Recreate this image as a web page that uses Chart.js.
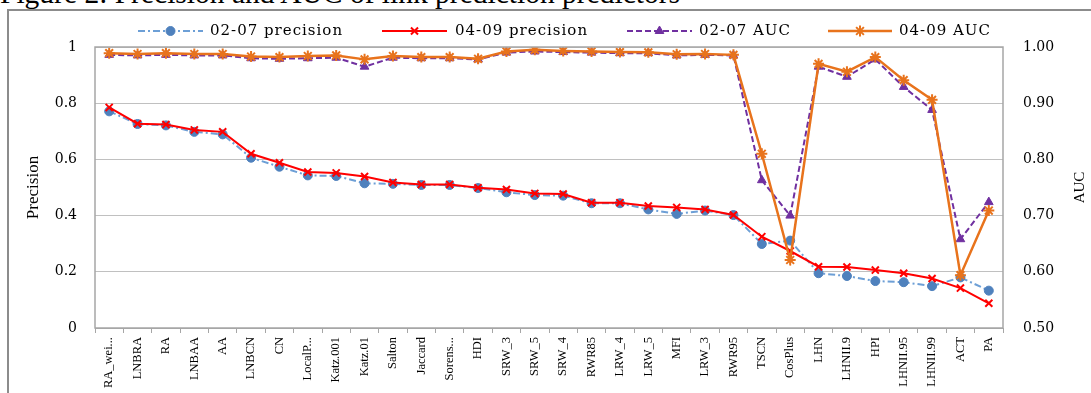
<!DOCTYPE html>
<html><head><meta charset="utf-8">
<script src="https://cdn.jsdelivr.net/npm/chart.js@4.4.0/dist/chart.umd.min.js"></script>
<style>
html,body{margin:0;padding:0;background:#fff;width:1091px;height:393px;overflow:hidden;}
#cap{position:absolute;left:0;top:-22px;font-family:"Liberation Serif";font-size:29.5px;line-height:30px;white-space:nowrap;color:#000}
#frame{position:absolute;left:7px;top:9px;width:1200px;height:500px;border-left:2px solid #8c8c8c;border-top:2px solid #8c8c8c;}
#wrap{position:absolute;left:0;top:0;width:1091px;height:393px}
</style></head><body>
<div id="cap">Figure 2: Precision and AUC of link prediction predictors</div>
<div id="frame"></div>
<div id="wrap"><canvas id="c" width="1091" height="393"></canvas></div>
<script>
const categories = ["RA_wei...","LNBRA","RA","LNBAA","AA","LNBCN","CN","LocalP...","Katz.001","Katz.01","Salton","Jaccard","Sorens...","HDI","SRW_3","SRW_5","SRW_4","RWR85","LRW_4","LRW_5","MFI","LRW_3","RWR95","TSCN","CosPlus","LHN","LHNII.9","HPI","LHNII.95","LHNII.99","ACT","PA"];
const prec0207 = [0.771,0.726,0.721,0.698,0.689,0.606,0.574,0.543,0.541,0.515,0.513,0.509,0.509,0.498,0.483,0.473,0.471,0.444,0.444,0.422,0.406,0.418,0.402,0.299,0.311,0.195,0.185,0.167,0.163,0.149,0.180,0.133];
const prec0409 = [0.785,0.727,0.724,0.705,0.698,0.620,0.588,0.555,0.552,0.539,0.518,0.511,0.511,0.499,0.493,0.479,0.477,0.446,0.446,0.434,0.429,0.422,0.402,0.325,0.274,0.218,0.217,0.206,0.195,0.176,0.142,0.088];
const auc0207 = [0.986,0.985,0.986,0.985,0.985,0.980,0.979,0.980,0.981,0.965,0.981,0.980,0.980,0.978,0.990,0.992,0.991,0.990,0.989,0.989,0.985,0.986,0.985,0.763,0.700,0.965,0.947,0.978,0.929,0.888,0.658,0.724];
const auc0409 = [0.989,0.9875,0.989,0.9875,0.9875,0.983,0.982,0.984,0.985,0.978,0.984,0.982,0.982,0.979,0.992,0.995,0.993,0.992,0.991,0.9905,0.987,0.9875,0.986,0.810,0.621,0.970,0.956,0.982,0.941,0.906,0.594,0.709];
const leftTicks = ["0","0.2","0.4","0.6","0.8","1"];
const rightTicks = ["0.50","0.60","0.70","0.80","0.90","1.00"];
const seriesNames = ["02-07 precision","04-09 precision","02-07 AUC","04-09 AUC"];
const leftTitle = "Precision";
const rightTitle = "AUC";

const legendPos = [
  {x0:138,x1:203,tx:210},
  {x0:382,x1:447,tx:455},
  {x0:627,x1:692,tx:699},
  {x0:828,x1:892,tx:899}
];

const extrasPlugin = {
  id:'extras',
  afterDraw(chart){
    const ctx = chart.ctx;
    const a = chart.chartArea;
    ctx.save();
    ctx.strokeStyle = '#a6a6a6';
    ctx.lineWidth = 1.5;
    ctx.setLineDash([]);
    ctx.strokeRect(a.left, a.top, a.right - a.left, a.bottom - a.top);
    ctx.fillStyle = '#000';
    ctx.font = '15px "Liberation Serif"';
    ctx.textAlign = 'center';
    ctx.textBaseline = 'middle';
    ctx.translate(1080, (a.top + a.bottom)/2);
    ctx.rotate(-Math.PI/2);
    ctx.fillText(rightTitle, 0, 0);
    ctx.restore();
    const y = 31;
    chart.data.datasets.forEach((ds, i) => {
      const p = legendPos[i];
      ctx.save();
      ctx.strokeStyle = ds.borderColor;
      ctx.lineWidth = ds.borderWidth;
      ctx.setLineDash(ds.borderDash || []);
      ctx.beginPath();
      ctx.moveTo(p.x0, y); ctx.lineTo(p.x1, y);
      ctx.stroke();
      ctx.setLineDash([]);
      ctx.fillStyle = ds.pointBackgroundColor || ds.borderColor;
      ctx.strokeStyle = ds.pointBorderColor || ds.borderColor;
      ctx.lineWidth = ds.pointBorderWidth;
      Chart.helpers.drawPoint(ctx, {pointStyle: ds.pointStyle, radius: ds.pointRadius, rotation: 0, borderWidth: ds.pointBorderWidth}, (p.x0+p.x1)/2, y);
      ctx.fillStyle = '#000';
      ctx.font = '15px "DejaVu Serif"';
      try { ctx.letterSpacing = '1px'; } catch(e) {}
      ctx.textAlign = 'left';
      ctx.textBaseline = 'middle';
      ctx.fillText(ds.label, p.tx, y);
      ctx.restore();
    });
  }
};

new Chart(document.getElementById('c').getContext('2d'), {
  type: 'line',
  data: {
    labels: categories,
    datasets: [
      {label: seriesNames[0], data: prec0207, yAxisID: 'y', order: 3,
       borderColor: '#6d9fd6', borderWidth: 2, borderDash: [7,3,2,3],
       pointStyle: 'circle', pointRadius: 4.5, pointBackgroundColor: '#4f81bd', pointBorderColor: '#4f81bd', pointBorderWidth: 1},
      {label: seriesNames[1], data: prec0409, yAxisID: 'y', order: 1,
       borderColor: '#ff0000', borderWidth: 2,
       pointStyle: 'crossRot', pointRadius: 5, pointBackgroundColor: '#ff0000', pointBorderColor: '#ff0000', pointBorderWidth: 2},
      {label: seriesNames[2], data: auc0207, yAxisID: 'y2', order: 2,
       borderColor: '#7030a0', borderWidth: 2, borderDash: [6,3],
       pointStyle: 'triangle', pointRadius: 5, pointBackgroundColor: '#7030a0', pointBorderColor: '#7030a0', pointBorderWidth: 1},
      {label: seriesNames[3], data: auc0409, yAxisID: 'y2', order: 0,
       borderColor: '#e8731c', borderWidth: 2.5,
       pointStyle: 'star', pointRadius: 5.5, pointBackgroundColor: '#e8731c', pointBorderColor: '#e8731c', pointBorderWidth: 2}
    ]
  },
  options: {
    responsive: false, animation: false, devicePixelRatio: 1,
    layout: {padding: {top: 47, left: 0, right: 0, bottom: 0}},
    plugins: {legend: {display: false}, tooltip: {enabled: false}},
    scales: {
      x: {
        offset: true,
        grid: {offset: true, drawOnChartArea: false, tickLength: 5, color: '#a6a6a6'},
        border: {color: '#a6a6a6'},
        ticks: {minRotation: 90, maxRotation: 90, autoSkip: false, color: '#000', padding: 4,
                font: {family: 'Liberation Serif', size: 12.5}},
        afterFit(s){ s.height = 65; }
      },
      y: {
        position: 'left', min: 0, max: 1,
        ticks: {stepSize: 0.2, callback: (v, i) => leftTicks[i], color: '#000', padding: 18,
                font: {family: 'DejaVu Serif', size: 14}},
        grid: {color: '#c0c0c0', drawTicks: false, lineWidth: 1},
        border: {display: false},
        title: {display: true, text: leftTitle, color: '#000', padding: {top: 23, bottom: 0},
                font: {family: 'Liberation Serif', size: 17}},
        afterFit(s){ s.width = 95; }
      },
      y2: {
        position: 'right', min: 0.5, max: 1,
        ticks: {stepSize: 0.1, callback: (v, i) => rightTicks[i], color: '#000', padding: 20,
                font: {family: 'DejaVu Serif', size: 14}},
        grid: {drawOnChartArea: false, drawTicks: false},
        border: {display: false},
        afterFit(s){ s.width = 88; }
      }
    }
  },
  plugins: [extrasPlugin]
});
</script>
</body></html>
